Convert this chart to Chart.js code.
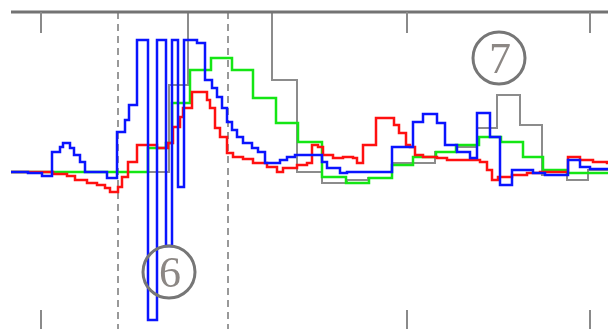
<!DOCTYPE html>
<html>
<head>
<meta charset="utf-8">
<script src="https://cdn.jsdelivr.net/npm/chart.js@4/dist/chart.umd.min.js"></script>
<style>
  html, body { margin: 0; background: #fff; }
</style>
</head>
<body>
<canvas id="chart" width="608" height="329"></canvas>
<script>
// step series: [x, value] - value holds until the next x
const blueSteps = [
  [11, 0], [28, -1], [42, -4], [52, 20], [60, 25], [63, 29], [70, 24], [74, 17], [80, 10], [85, 0],
  [107, -6], [117, 40], [125, 52], [129, 67], [137, 132], [148, -148], [157, 132], [166, -74],
  [172, 132], [178, -15], [184, 132], [197, 129], [205, 92], [212, 84], [217, 75], [222, 64],
  [227, 50], [232, 42], [237, 35], [243, 29], [252, 24], [258, 20], [265, 9], [280, 12], [287, 15],
  [295, 17], [322, 10], [327, 4], [340, -1], [347, 0], [392, 25], [413, 50], [423, 58], [437, 49],
  [445, 27], [457, 20], [470, 14], [477, 59], [490, 35], [500, -13], [512, 2], [533, -1], [545, -3],
  [568, 12], [580, 5], [590, 3], [608, 3]
];
const redSteps = [
  [11, 0], [53, -2], [67, -4], [75, -8], [87, -11], [97, -13], [105, -16], [110, -20], [118, -15],
  [122, -5], [128, 10], [137, 27], [150, 27], [157, 24], [168, 29], [173, 45], [180, 55], [183, 64],
  [192, 80], [203, 80], [207, 72], [210, 64], [215, 44], [220, 35], [227, 19], [233, 15], [243, 13],
  [253, 9], [267, 5], [277, 0], [283, 4], [297, 7], [307, 9], [312, 27], [318, 25], [323, 17],
  [333, 14], [343, 15], [353, 14], [357, 9], [363, 27], [376, 54], [394, 47], [399, 39], [406, 27],
  [410, 25], [415, 17], [423, 15], [437, 14], [447, 12], [480, 10], [487, 2], [492, -8], [498, -5],
  [512, -3], [527, -1], [540, 0], [568, 15], [580, 12], [593, 10], [607, 9], [608, 9]
];
const greenSteps = [
  [11, 0], [148, 24], [166, 29], [172, 69], [190, 102], [211, 114], [232, 102], [253, 74],
  [276, 49], [298, 30], [322, -5], [346, -11], [369, -6], [392, 7], [413, 15], [436, 20],
  [456, 27], [479, 35], [501, 30], [523, 15], [543, 2], [567, -1], [608, -1]
];
const graySteps = [
  [11, 0], [169, 87], [188, 200], [272, 92], [297, 0], [322, -11], [347, -8], [368, -6],
  [392, 9], [435, 20], [456, 25], [477, 44], [497, 77], [520, 47], [542, -3], [567, -8],
  [588, 2], [608, 2]
];

const xRange = [0, 608];
const yRange = [-157, 160];
const frameStart = 11;
const tickXs = [41, 407, 590];
const dashedXs = [118, 228];
const markerLabels = ["6", "7"];
const markerXs = [169, 499];
const markerYs = [-100, 114];

const toPoints = steps => steps.map(([x, y]) => ({ x, y }));

const decorations = {
  id: "decorations",
  beforeDatasetsDraw(chart) {
    const { ctx, chartArea, scales: { x } } = chart;
    ctx.save();
    ctx.strokeStyle = "#999";
    ctx.lineWidth = 2;
    ctx.setLineDash([7, 5]);
    dashedXs.forEach(v => {
      const px = Math.round(x.getPixelForValue(v));
      ctx.beginPath();
      ctx.moveTo(px, chartArea.top);
      ctx.lineTo(px, chartArea.bottom);
      ctx.stroke();
    });
    ctx.restore();
  },
  afterDatasetsDraw(chart) {
    const { ctx, chartArea, scales: { x, y } } = chart;
    ctx.save();
    // top frame
    ctx.strokeStyle = "#737373";
    ctx.lineWidth = 3;
    ctx.beginPath();
    ctx.moveTo(x.getPixelForValue(frameStart), chartArea.top);
    ctx.lineTo(chartArea.right, chartArea.top);
    ctx.stroke();
    // ticks top and bottom
    ctx.strokeStyle = "#8a8a8a";
    ctx.lineWidth = 2;
    tickXs.forEach(v => {
      const px = Math.round(x.getPixelForValue(v));
      ctx.beginPath();
      ctx.moveTo(px, chartArea.top);
      ctx.lineTo(px, chartArea.top + 21);
      ctx.moveTo(px, chartArea.bottom - 19);
      ctx.lineTo(px, chartArea.bottom);
      ctx.stroke();
    });
    // circled labels
    ctx.font = "44px 'Liberation Serif'";
    ctx.textAlign = "center";
    ctx.textBaseline = "alphabetic";
    markerLabels.forEach((label, i) => {
      const cx = x.getPixelForValue(markerXs[i]);
      const cy = y.getPixelForValue(markerYs[i]);
      ctx.strokeStyle = "#767676";
      ctx.lineWidth = 3;
      ctx.beginPath();
      ctx.arc(cx, cy, 26, 0, Math.PI * 2);
      ctx.stroke();
      ctx.fillStyle = "#8c8784";
      ctx.fillText(label, cx + 1, cy + 15);
    });
    ctx.restore();
  }
};

new Chart(document.getElementById("chart"), {
  type: "line",
  data: {
    datasets: [
      { data: toPoints(blueSteps), borderColor: "#0a14ff" },
      { data: toPoints(redSteps), borderColor: "#ff1010" },
      { data: toPoints(greenSteps), borderColor: "#14e614" },
      { data: toPoints(graySteps), borderColor: "#8c8c8c", borderWidth: 2 }
    ]
  },
  options: {
    responsive: false,
    animation: false,
    devicePixelRatio: 1,
    layout: { padding: { top: 12, left: 0, right: 0, bottom: 0 } },
    datasets: {
      line: { stepped: true, borderWidth: 2.5, pointRadius: 0, fill: false, tension: 0 }
    },
    scales: {
      x: { type: "linear", min: xRange[0], max: xRange[1], display: false },
      y: { type: "linear", min: yRange[0], max: yRange[1], display: false }
    },
    plugins: { legend: { display: false }, tooltip: { enabled: false } }
  },
  plugins: [decorations]
});
</script>
</body>
</html>
